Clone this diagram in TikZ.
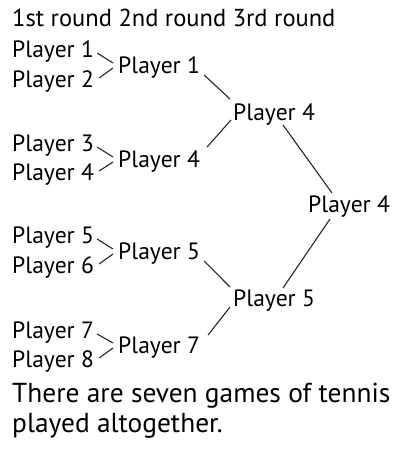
\documentclass[tikz,border=0pt]{standalone}
\usepackage{fontspec}
\setmainfont{PT Sans}
\usetikzlibrary{calc}
\begin{document}
\begin{tikzpicture}[x=1pt,y=-1pt,
  lbl/.style={anchor=base west,inner sep=0pt,font=\fontsize{23.6}{28}\selectfont},
  hdr/.style={anchor=base west,inner sep=0pt,font=\fontsize{24.5}{28}\selectfont},
  foot/.style={anchor=base west,inner sep=0pt,font=\fontsize{27.4}{32}\selectfont},
  conn/.style={line width=1.1pt,draw=black!85}]
\useasboundingbox (0,0) rectangle (402,455);
\fill[white] (0,0) rectangle (402,455);
\node[hdr] (head) at (12,26) {1st round 2nd round 3rd round};
% first round
\node[lbl] (a1) at (12,57) {Player 1};
\node[lbl] (a2) at (12,87) {Player 2};
\node[lbl] (a3) at (12,151) {Player 3};
\node[lbl] (a4) at (12,180) {Player 4};
\node[lbl] (a5) at (12,243) {Player 5};
\node[lbl] (a6) at (12,273) {Player 6};
\node[lbl] (a7) at (12,338) {Player 7};
\node[lbl] (a8) at (12,367) {Player 8};
% second round
\node[lbl] (b1) at (118,73) {Player 1};
\node[lbl] (b2) at (118,167) {Player 4};
\node[lbl] (b3) at (118,259) {Player 5};
\node[lbl] (b4) at (118,353) {Player 7};
% third round
\node[lbl] (c1) at (233,120) {Player 4};
\node[lbl] (c2) at (233,306) {Player 5};
% final
\node[lbl] (d1) at (308,212) {Player 4};
% footer
\node[foot] (f1) at (12,402) {There are seven games of tennis};
\node[foot] (f2) at (12,432) {played altogether.};
% first-round connectors
\foreach \u/\l/\w in {a1/a2/b1,a3/a4/b2,a5/a6/b3,a7/a8/b4}{
  \draw[conn] ($(\u.base east)+(3,-4)$) -- ($(\w.base west)+(-5,-10)$);
  \draw[conn] ($(\l.base east)+(5,-9)$) -- ($(\w.base west)+(-5,-5)$);
}
% second-round connectors
\draw[conn] ($(b1.base east)+(4,2)$) -- ($(c1.base west)+(-3,-21)$);
\draw[conn] ($(b2.base east)+(7,-20)$) -- ($(c1.base west)+(-2,0)$);
\draw[conn] ($(b3.base east)+(4,2)$) -- ($(c2.base west)+(-3,-19)$);
\draw[conn] ($(b4.base east)+(8,-18)$) -- ($(c2.base west)+(-3,1)$);
% third-round connectors
\draw[conn] ($(c1.base west)+(50,5)$) -- ($(d1.base west)+(24,-19)$);
\draw[conn] ($(d1.base west)+(22,7)$) -- ($(c2.base west)+(50,-18)$);
\end{tikzpicture}
\end{document}
